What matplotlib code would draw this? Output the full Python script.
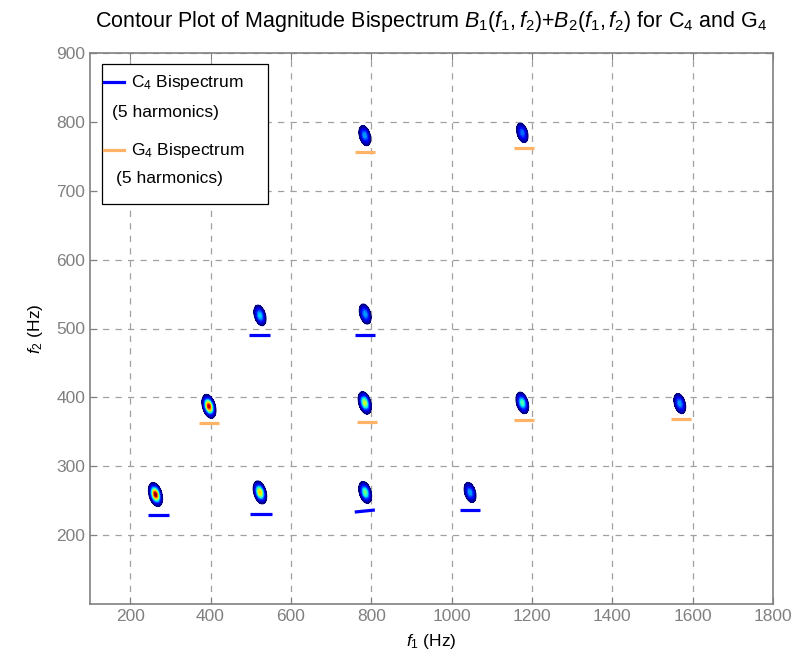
import numpy as np
import matplotlib
matplotlib.use("Agg")
import matplotlib.pyplot as plt
from matplotlib.patches import Rectangle

plt.rcParams['font.family'] = ['Liberation Sans Narrow', 'Liberation Sans', 'DejaVu Sans']
plt.rcParams['mathtext.fontset'] = 'custom'
plt.rcParams['mathtext.rm'] = 'Liberation Sans'
plt.rcParams['mathtext.it'] = 'Liberation Sans:italic'

# ---- data ----
# bispectrum peaks (f1, f2, relative magnitude)
c4_peak_f1 = [263, 523, 785, 1046, 523, 785]
c4_peak_f2 = [259, 262, 262, 262, 519, 521]
c4_peak_amp = [1.00, 0.70, 0.50, 0.30, 0.35, 0.30]

g4_peak_f1 = [396, 784, 1176, 1568, 784, 1176]
g4_peak_f2 = [387, 392, 392, 391, 780, 784]
g4_peak_amp = [0.95, 0.60, 0.45, 0.30, 0.30, 0.25]

# marker segments below the peaks (f1 left, f1 right, f2 left, f2 right)
c4_seg_f1a = [244, 498, 759, 1020, 496, 760]
c4_seg_f1b = [296, 552, 809, 1070, 548, 810]
c4_seg_f2a = [229, 231, 233.5, 237, 490, 490]
c4_seg_f2b = [229, 231, 236.5, 237, 490, 490]

g4_seg_f1a = [372, 764, 1155, 1545, 760, 1155]
g4_seg_f1b = [422, 814, 1205, 1595, 810, 1205]
g4_seg_f2a = [363, 364, 367, 368, 756, 762]
g4_seg_f2b = [363, 364, 367, 368, 756, 762]

xticks = [200, 400, 600, 800, 1000, 1200, 1400, 1600, 1800]
yticks = [200, 300, 400, 500, 600, 700, 800, 900]

legend_titles = ['C$_4$ Bispectrum', 'G$_4$ Bispectrum']
legend_sub = ['(5 harmonics)', '(5 harmonics)']

# ---- figure ----
W, H = 795, 660
fig = plt.figure(figsize=(W/100, H/100), dpi=100)
ax = fig.add_axes([90/W, 1-604/H, (773-90)/W, (604-53)/H])

f1 = np.arange(100, 1801, 1.0)
f2 = np.arange(100, 901, 1.0)
F1, F2 = np.meshgrid(f1, f2)
Z = np.zeros_like(F1)

sx, sy = 0.402, 0.689
theta = np.deg2rad(16)
s_major, s_minor = 4.4, 2.3
def add_peak(cx, cy, a):
    u = (F1 - cx) * sx
    v = (F2 - cy) * sy
    pm = -u * np.sin(theta) + v * np.cos(theta)
    pn = u * np.cos(theta) + v * np.sin(theta)
    return a * np.exp(-0.5 * ((pm / s_major) ** 2 + (pn / s_minor) ** 2))

for cx, cy, a in zip(c4_peak_f1 + g4_peak_f1, c4_peak_f2 + g4_peak_f2, c4_peak_amp + g4_peak_amp):
    Z = Z + add_peak(cx, cy, a)

t0 = 0.02
levels = np.linspace(t0, 1.0, 25)
ax.contourf(F1, F2, Z, levels=levels, cmap='jet', vmin=t0, vmax=1.0, zorder=2)
ax.contour(F1, F2, Z, levels=[t0], colors=['#000080'], linewidths=0.8, zorder=3)

blue = '#0000FF'
orange = '#FFB366'
for xa, xb, ya, yb in zip(c4_seg_f1a, c4_seg_f1b, c4_seg_f2a, c4_seg_f2b):
    ax.plot([xa, xb], [ya, yb], color=blue, lw=2.3, solid_capstyle='butt', zorder=4)
for xa, xb, ya, yb in zip(g4_seg_f1a, g4_seg_f1b, g4_seg_f2a, g4_seg_f2b):
    ax.plot([xa, xb], [ya, yb], color=orange, lw=2.3, solid_capstyle='butt', zorder=4)

ax.set_xlim(100, 1800)
ax.set_ylim(100, 900)
ax.set_xticks(xticks)
ax.set_yticks(yticks)
gray = '#808080'
ax.tick_params(direction='in', length=5, colors=gray, labelsize=12.5,
               top=True, right=True, labelcolor=gray)
for sp in ax.spines.values():
    sp.set_color(gray)
    sp.set_linewidth(1.2)
ax.grid(True, linestyle=(0, (5, 5)), color='#a0a0a0', linewidth=0.9, zorder=0)
ax.set_axisbelow(True)

ax.set_xlabel(r'$f_1$ (Hz)', fontsize=12.5, labelpad=6)
ax.set_ylabel(r'$f_2$ (Hz)', fontsize=12.5, labelpad=8)
ax.set_title(r'Contour Plot of Magnitude Bispectrum $B_1(f_1,f_2)$+$B_2(f_1,f_2)$ for C$_4$ and G$_4$',
             fontsize=15.5, pad=19)

# ---- legend (MATLAB style, drawn in figure pixel coords) ----
def fx(px):
    return px / W
def fy(py):
    return 1 - py / H
fig.patches.append(Rectangle((fx(102), fy(204)), fx(268) - fx(102), fy(64) - fy(204),
                             transform=fig.transFigure, facecolor='white',
                             edgecolor='black', linewidth=0.9, zorder=10))
colors = [blue, orange]
rows_title = [82, 150]
rows_sub = [113, 179]
sub_x = [112, 116]
for i in range(2):
    fig.lines.append(plt.Line2D([fx(104), fx(124)], [fy(rows_title[i]), fy(rows_title[i])],
                                transform=fig.transFigure, color=colors[i], lw=2.3, zorder=11))
    fig.text(fx(131), fy(rows_title[i]), legend_titles[i], fontsize=12.5, va='center',
             ha='left', zorder=12)
    fig.text(fx(sub_x[i]), fy(rows_sub[i]), legend_sub[i], fontsize=12.5, va='center',
             ha='left', zorder=12)

fig.savefig('out.png', dpi=100)
